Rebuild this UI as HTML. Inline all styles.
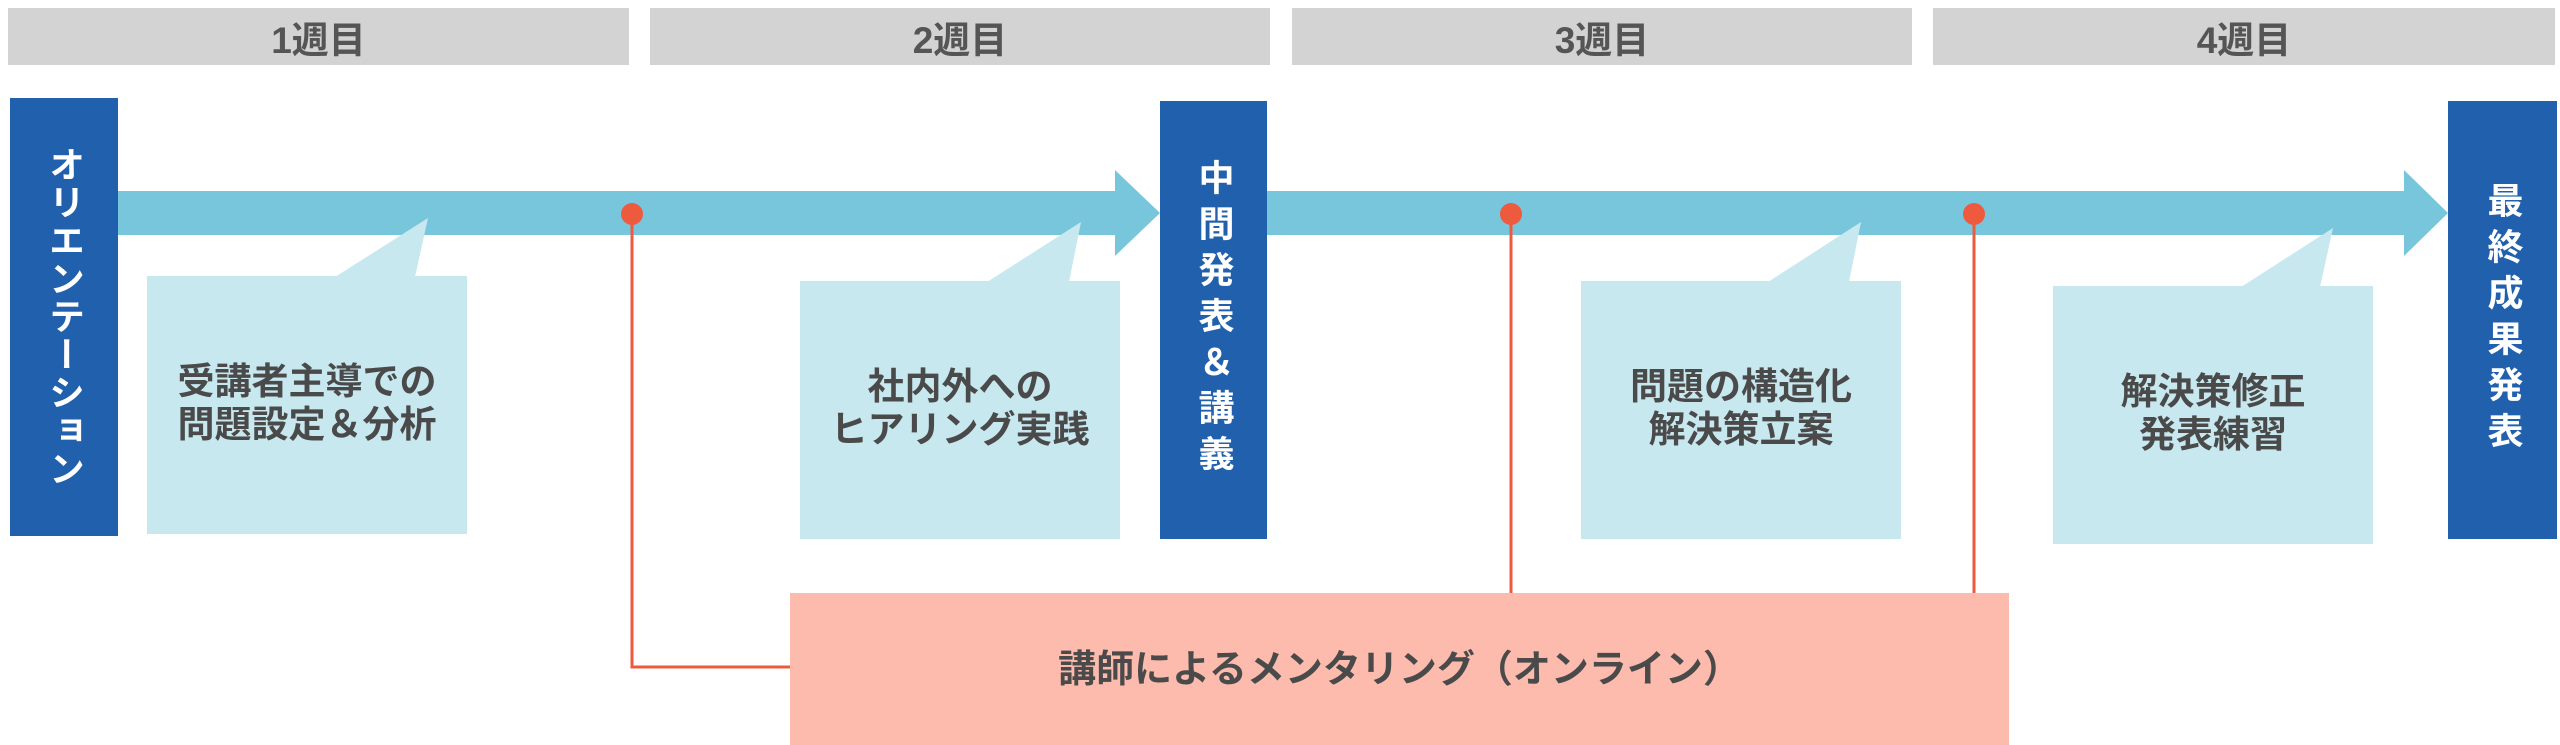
<!DOCTYPE html>
<html><head><meta charset="utf-8"><style>
body{margin:0;width:2560px;height:745px;background:#fff;position:relative;overflow:hidden;font-family:"Liberation Sans","Noto Sans CJK JP",sans-serif;font-weight:bold;color:#4a4a4a}
.a{position:absolute}
.wk{background:#d3d3d3;top:8px;height:57px;display:flex;align-items:center;justify-content:center;font-size:37px;color:#555}
.blue{background:#2160ad;color:#fff;display:flex;align-items:center;justify-content:center;writing-mode:vertical-rl;font-size:36px}
.ct{display:flex;align-items:center;justify-content:center;text-align:center;font-size:37px;line-height:43px;color:#4a4a4a;padding-bottom:4px;box-sizing:border-box}
</style></head><body>
<div class="a wk" style="left:8px;width:621px">1週目</div>
<div class="a wk" style="left:650px;width:620px">2週目</div>
<div class="a wk" style="left:1292px;width:620px">3週目</div>
<div class="a wk" style="left:1933px;width:622px">4週目</div>
<svg class="a" style="left:0;top:0" width="2560" height="745">
<rect x="118" y="191" width="1000" height="44" fill="#77c6dc"/>
<polygon points="1115,170 1160,213 1115,256" fill="#77c6dc"/>
<rect x="1267" y="191" width="1140" height="44" fill="#77c6dc"/>
<polygon points="2404,170 2448,213 2404,256" fill="#77c6dc"/>
<g fill="#c8e8f0">
<rect x="147" y="276" width="320" height="258"/><polygon points="335,277 415,277 428,218"/>
<rect x="800" y="281" width="320" height="258"/><polygon points="987,282 1069,282 1081,222"/>
<rect x="1581" y="281" width="320" height="258"/><polygon points="1768,282 1849,282 1861,222"/>
<rect x="2053" y="286" width="320" height="258"/><polygon points="2241,287 2320,287 2333,228"/>
</g>
<rect x="790" y="593" width="1219" height="160" fill="#fdbbad"/>
<g stroke="#ee5a3e" stroke-width="3" fill="none">
<polyline points="632,215 632,667 790,667"/>
<line x1="1511" y1="215" x2="1511" y2="593"/>
<line x1="1974" y1="215" x2="1974" y2="593"/>
</g>
<g fill="#ee5a3e"><circle cx="632" cy="214" r="11"/><circle cx="1511" cy="214" r="11"/><circle cx="1974" cy="214" r="11"/></g>
</svg>
<div class="a blue" style="left:10px;top:98px;width:108px;height:438px;letter-spacing:2px">オリエンテーション</div>
<div class="a blue" style="left:1160px;top:101px;width:107px;height:438px;letter-spacing:10px">中間発表＆講義</div>
<div class="a blue" style="left:2448px;top:101px;width:109px;height:438px;letter-spacing:10px">最終成果発表</div>
<div class="a ct" style="left:147px;top:276px;width:320px;height:258px">受講者主導での<br>問題設定＆分析</div>
<div class="a ct" style="left:800px;top:281px;width:320px;height:258px">社内外への<br>ヒアリング実践</div>
<div class="a ct" style="left:1581px;top:281px;width:320px;height:258px">問題の構造化<br>解決策立案</div>
<div class="a ct" style="left:2053px;top:286px;width:320px;height:258px">解決策修正<br>発表練習</div>
<div class="a" style="left:790px;top:648px;width:1219px;text-align:center;font-size:38px;line-height:44px">講師によるメンタリング（オンライン）</div>
</body></html>
